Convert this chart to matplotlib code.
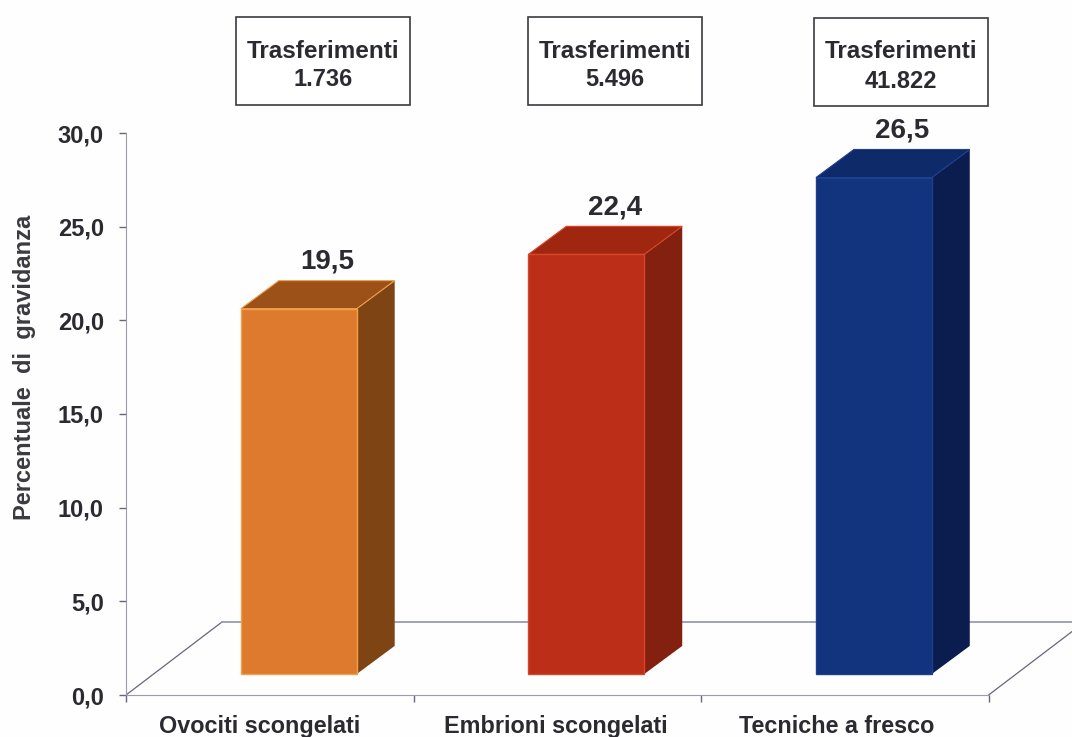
import matplotlib
matplotlib.use("Agg")
import matplotlib.pyplot as plt
from matplotlib.patches import Polygon, Rectangle

plt.rcParams['font.family'] = ['Liberation Sans', 'DejaVu Sans']

# values
categories = ["Ovociti scongelati", "Embrioni scongelati", "Tecniche a fresco"]
values = [19.5, 22.4, 26.5]
value_labels = ["19,5", "22,4", "26,5"]
transfers = ["1.736", "5.496", "41.822"]
y_ticks = [0, 5, 10, 15, 20, 25, 30]
y_labels = ["0,0", "5,0", "10,0", "15,0", "20,0", "25,0", "30,0"]

front_colors = ["#DE7A2D", "#BC2E17", "#12337E"]
side_colors = ["#7E4414", "#84200F", "#0B1D4E"]
top_colors = ["#9C5119", "#A0270F", "#0E2A68"]
edge_colors = ["#F2A04A", "#D8452A", "#1C3F92"]

W, H = 1072, 737
fig = plt.figure(figsize=(W / 100, H / 100), dpi=100, facecolor="#FEFEFE")
ax = fig.add_axes([126 / W, (H - 695) / H, (1072 - 126) / W, (695 - 133) / H])
ax.set_facecolor("none")
ax.set_xlim(-0.5, 2.79)
ax.set_ylim(0, 30)

# 3d look: floor depth and bar depth in data units
floor_dx, floor_dy = 0.334, 3.9
bar_dx, bar_dy = 0.132, 1.5
bar_w = 0.403
bar_shift, bar_base = 0.101, 1.12
line_col = "#9A9CAA"
text_col = "#2A2A30"

# floor
ax.plot([-0.5, -0.5 + floor_dx], [0, floor_dy], color="#66677A", lw=0.9, zorder=1)
ax.plot([-0.5 + floor_dx, 2.79], [floor_dy, floor_dy], color=line_col, lw=1.3, zorder=1)
ax.plot([2.5, 2.5 + floor_dx], [0, floor_dy], color="#66677A", lw=0.9, zorder=1)

# bars
for i, v in enumerate(values):
    x0 = i + bar_shift - bar_w / 2
    x1 = x0 + bar_w
    b0 = bar_base
    b1 = bar_base + v
    ax.bar(i + bar_shift, v, bar_w, bottom=b0, color=front_colors[i],
           edgecolor=edge_colors[i], linewidth=1.0, zorder=3)
    ax.add_patch(Polygon([(x1, b0), (x1 + bar_dx, b0 + bar_dy), (x1 + bar_dx, b1 + bar_dy), (x1, b1)],
                         facecolor=side_colors[i], edgecolor="none", zorder=2))
    ax.add_patch(Polygon([(x0, b1), (x0 + bar_dx, b1 + bar_dy), (x1 + bar_dx, b1 + bar_dy), (x1, b1)],
                         facecolor=top_colors[i], edgecolor=edge_colors[i], linewidth=0.8, zorder=2))
    ax.text(i + 0.2, b1 + bar_dy + 0.3, value_labels[i], ha="center", va="bottom",
            fontsize=20, fontweight="bold", color=text_col)

# axes
for s in ["top", "right"]:
    ax.spines[s].set_visible(False)
ax.spines["left"].set_color(line_col)
ax.spines["bottom"].set_color(line_col)
ax.spines["bottom"].set_bounds(-0.5, 2.5)
ax.set_yticks(y_ticks)
ax.set_yticklabels(y_labels, fontsize=17, fontweight="bold", color=text_col)
ax.set_xticks([-0.5, 0.5, 1.5, 2.5])
ax.set_xticklabels([])
ax.tick_params(axis="y", length=5, width=1, color="#66677A", pad=11)
ax.tick_params(axis="x", length=5, width=1, color="#66677A")
ax.set_ylabel("Percentuale  di  gravidanza", fontsize=17, fontweight="bold", color="#3A3A40")
ax.yaxis.set_label_coords((36 - 126) / (1072 - 126), (695 - 367) / (695 - 133))

# category labels sit just under the axis
label_x = [-0.035, 0.995, 1.97]
for xp, c in zip(label_x, categories):
    ax.text(xp, -1.68, c, ha="center", va="center", fontsize=16.8, fontweight="bold", color=text_col)

# boxes on top
box_left = [236, 528, 814]
box_top = [17, 17, 18]
for i, t in enumerate(transfers):
    fig.add_artist(Rectangle((box_left[i] / W, (H - box_top[i] - 88) / H), 174 / W, 88 / H,
                             transform=fig.transFigure, facecolor="white",
                             edgecolor="#3A3A40", linewidth=1.2))
    cx = (box_left[i] + 87) / W
    fig.text(cx, (H - box_top[i] - 34) / H, "Trasferimenti", ha="center", va="center",
             fontsize=17.5, fontweight="bold", color=text_col)
    fig.text(cx, (H - box_top[i] - 63) / H, t, ha="center", va="center",
             fontsize=17, fontweight="bold", color=text_col)

fig.savefig("out.png", dpi=100, facecolor=fig.get_facecolor())
